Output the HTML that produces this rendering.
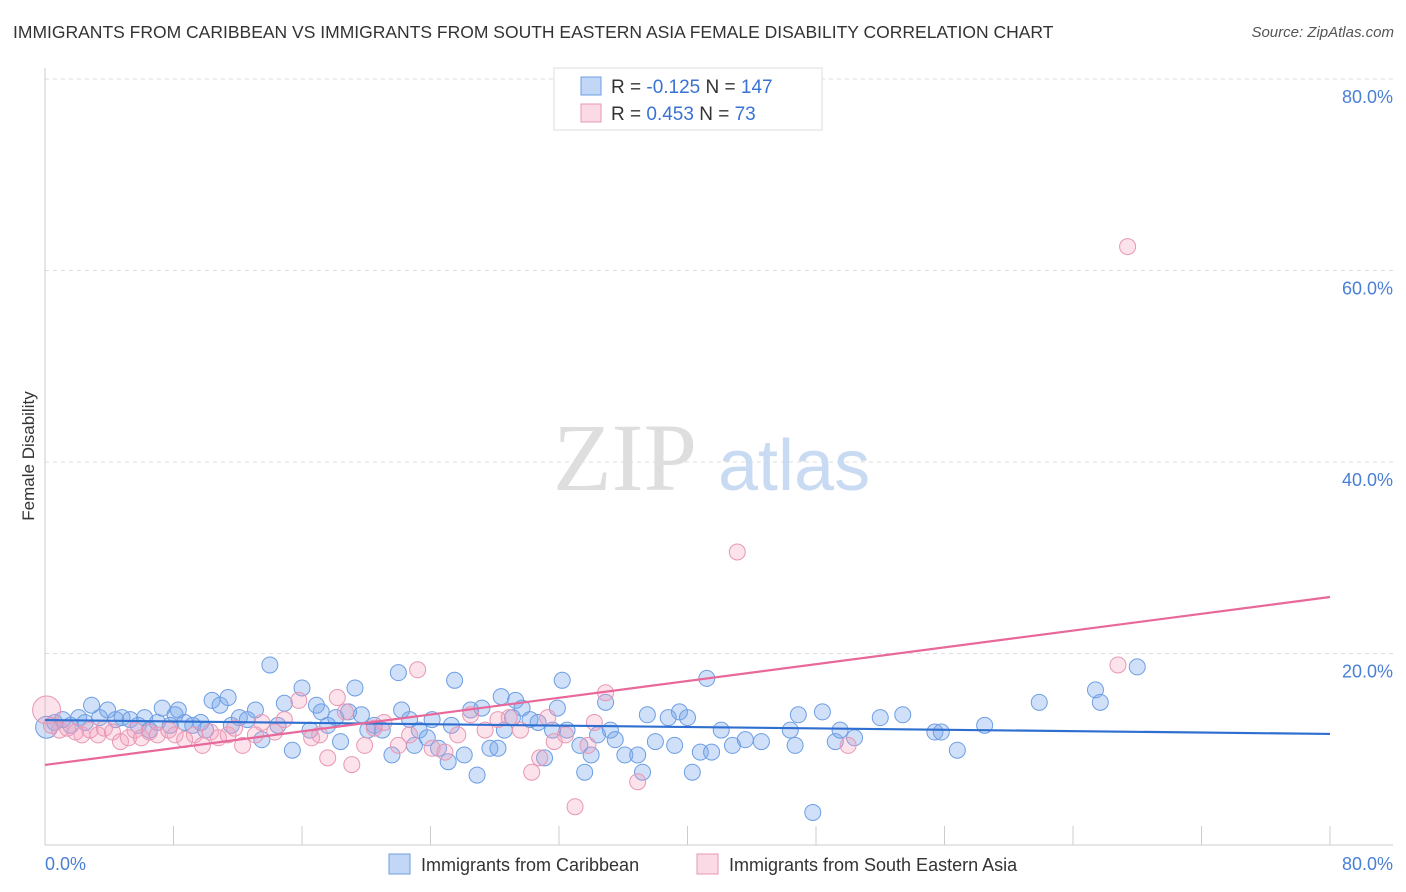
<!DOCTYPE html>
<html><head><meta charset="utf-8">
<style>
body{margin:0;background:#fff;font-family:"Liberation Sans",sans-serif;}
#wrap{position:relative;width:1406px;height:892px;overflow:hidden;}
.title{position:absolute;left:13px;top:22px;font-size:17.5px;color:#333;letter-spacing:0px;}
.source{position:absolute;right:12px;top:24px;font-size:15px;color:#555;font-style:italic;}
</style></head><body>
<div id="wrap">
<div class="title">IMMIGRANTS FROM CARIBBEAN VS IMMIGRANTS FROM SOUTH EASTERN ASIA FEMALE DISABILITY CORRELATION CHART</div>
<div class="source">Source: ZipAtlas.com</div>
<svg id="chart" width="1406" height="892" style="position:absolute;left:0;top:0"></svg>
</div>
<script>
const blueX=[0.1,0.6,1.1,1.6,2.1,2.5,2.9,3.4,3.9,4.4,4.8,5.3,5.8,6.2,6.5,7.0,7.3,7.8,8.1,8.3,8.7,9.2,9.7,10.0,10.4,10.9,11.4,11.6,12.1,12.6,13.1,13.5,14.0,14.5,14.9,15.4,16.0,16.5,16.9,17.2,17.6,18.1,18.4,18.9,19.3,19.7,20.1,20.5,21.0,21.6,22.0,22.2,22.7,23.0,23.3,23.8,24.1,24.5,25.1,25.3,25.5,26.1,26.5,26.9,27.2,27.7,28.2,28.4,28.6,29.1,29.3,29.7,30.2,30.7,31.1,31.6,31.9,32.2,32.5,33.3,33.6,34.0,34.4,34.9,35.2,35.5,36.1,36.9,37.2,37.5,38.0,38.8,39.2,39.5,40.0,40.3,40.8,41.2,41.5,42.1,42.8,43.6,44.6,46.4,46.7,46.9,47.8,48.4,49.2,49.5,50.4,52.0,53.4,55.4,55.8,56.8,58.5,61.9,65.4,65.7,68.0];
const blueY=[12.3,12.8,13.1,12.5,13.3,12.8,14.6,13.3,14.1,13.1,13.3,13.1,12.5,13.3,12.0,12.8,14.3,12.5,13.6,14.1,12.8,12.5,12.8,12.0,15.1,14.6,15.4,12.5,13.3,13.1,14.1,11.0,18.8,12.5,14.8,9.9,16.4,12.0,14.6,13.9,12.5,13.3,10.8,13.9,16.4,13.6,12.0,12.5,12.0,9.4,18.0,14.1,13.1,10.4,12.0,11.2,13.1,10.1,8.7,12.5,17.2,9.4,14.1,7.3,14.3,10.1,10.1,15.5,12.0,13.3,15.1,14.3,13.1,12.8,9.1,12.0,14.3,17.2,12.0,10.4,7.6,9.4,11.5,14.9,12.0,11.0,9.4,9.4,7.6,13.6,10.8,13.3,10.4,13.9,13.3,7.6,9.7,17.4,9.7,12.0,10.4,11.0,10.8,12.0,10.4,13.6,3.4,13.9,10.8,12.0,11.2,13.3,13.6,11.8,11.8,9.9,12.5,14.9,16.2,14.9,18.6];
const pinkX=[0.1,0.4,0.9,1.4,1.9,2.3,2.8,3.3,3.7,4.2,4.7,5.2,5.6,6.0,6.5,7.0,7.7,8.1,8.7,9.3,9.8,10.3,10.8,11.4,11.8,12.3,13.1,13.5,14.3,14.9,15.8,16.6,17.1,17.6,18.2,18.7,19.1,19.9,20.5,21.1,22.0,22.7,23.2,24.1,24.9,25.7,26.5,27.4,28.2,28.9,29.6,30.3,30.8,31.3,31.7,32.4,33.0,33.8,34.2,34.9,36.9,43.1,50.0,66.8,67.4];
const pinkY=[14.1,12.5,12.0,12.2,11.8,11.5,12.0,11.5,12.2,11.8,10.8,11.2,12.0,11.2,11.8,11.5,12.0,11.5,11.0,11.5,10.4,11.8,11.2,11.5,12.2,10.4,11.5,12.8,11.8,13.1,15.1,11.2,11.5,9.1,15.4,13.9,8.4,10.4,12.2,12.8,10.4,11.5,18.3,10.1,9.7,11.5,13.6,12.0,13.1,13.3,12.0,7.6,9.1,13.3,10.8,11.5,4.0,10.4,12.8,15.9,6.6,30.6,10.4,18.8,62.5];
const blueTrend=[13.05,11.6];
const pinkTrend=[8.36,25.9];
const yTicks=[20,40,60,80];
const xTickVals=[0,8,16,24,32,40,48,56,64,72,80];

const svg=document.getElementById('chart');
const NS='http://www.w3.org/2000/svg';
const X0=45,X1=1330,Y0=845,Y80=79;
const sx=v=>X0+(v/80)*(X1-X0);
const sy=v=>Y0-(v/80)*(Y0-Y80);
function el(tag,attrs,parent){const e=document.createElementNS(NS,tag);for(const k in attrs)e.setAttribute(k,attrs[k]);(parent||svg).appendChild(e);return e;}

// grid
yTicks.forEach(t=>{
  const g=el('line',{x1:X0,x2:1393,y1:sy(t),y2:sy(t),stroke:'#dcdcdc','stroke-dasharray':'4,4'});
  
  
  const lb=el('text',{x:1393,y:sy(t)+24,'text-anchor':'end','font-size':18,fill:'#4a7fd6'});
  lb.textContent=t.toFixed(1)+'%';
  
  
});
// axes
const ax=el('line',{x1:X0,x2:1393,y1:Y0,y2:Y0,stroke:'#ccc'});


const ay=el('line',{x1:X0,x2:X0,y1:68,y2:Y0,stroke:'#ccc'});


xTickVals.forEach(t=>{
  const tk=el('line',{x1:sx(t),x2:sx(t),y1:826,y2:Y0,stroke:'#ccc'});
  
  
});
const xl0=el('text',{x:45,y:870,'font-size':18,fill:'#4a7fd6'});xl0.textContent='0.0%';


const xl1=el('text',{x:1393,y:870,'font-size':18,fill:'#4a7fd6','text-anchor':'end'});xl1.textContent='80.0%';


const yt=el('text',{x:34,y:456,'font-size':17,fill:'#333','text-anchor':'middle',transform:'rotate(-90 34 456)'});yt.textContent='Female Disability';



// watermark
const wm=el('text',{x:553,y:490,'font-size':96,fill:'#dedede','font-family':'Liberation Serif,serif'});wm.textContent='ZIP';


const wm2=el('text',{x:718,y:490,'font-size':72,fill:'#c9daf3'});wm2.textContent='atlas';



// points
blueX.forEach((x,i)=>{
  const c=el('circle',{cx:sx(x),cy:sy(blueY[i]),r:i==0?11:8,fill:'rgba(120,165,235,0.35)',stroke:'#6d9ee3','stroke-width':1});
  
  
});
pinkX.forEach((x,i)=>{
  const c=el('circle',{cx:sx(x),cy:sy(pinkY[i]),r:i==0?14:8,fill:'rgba(245,160,190,0.3)',stroke:'#e897b3','stroke-width':1});
  
  
});
// trends
const bt=el('line',{x1:sx(0),x2:sx(80),y1:sy(blueTrend[0]),y2:sy(blueTrend[1]),stroke:'#2f6fd0','stroke-width':2.2});


const pt=el('line',{x1:sx(0),x2:sx(80),y1:sy(pinkTrend[0]),y2:sy(pinkTrend[1]),stroke:'#e8689a','stroke-width':2.2});



// top legend
const lg=el('rect',{x:554,y:68,width:268,height:62,fill:'#fff',stroke:'#ddd'});


[[77,'rgba(120,165,235,0.45)','#6d9ee3','-0.125','147'],[104,'rgba(245,160,190,0.4)','#e897b3','0.453',' 73']].forEach(r=>{
  const s=el('rect',{x:581,y:r[0],width:20,height:18,fill:r[1],stroke:r[2]});
  
  
  const t=el('text',{x:611,y:r[0]+16,'font-size':19,fill:'#333','xml:space':'preserve'});
  t.innerHTML='R = <tspan fill="#3a72d4">'+r[3]+'</tspan>   N = <tspan fill="#3a72d4">'+r[4]+'</tspan>';
  
  
});
// bottom legend
[[389,'rgba(120,165,235,0.45)','#6d9ee3','Immigrants from Caribbean'],[697,'rgba(245,160,190,0.4)','#e897b3','Immigrants from South Eastern Asia']].forEach(r=>{
  const s=el('rect',{x:r[0],y:854,width:21,height:20,fill:r[1],stroke:r[2]});
  
  
  const t=el('text',{x:r[0]+32,y:871,'font-size':18,fill:'#333'});
  t.textContent=r[3];
  
  
});
</script>
</body></html>
